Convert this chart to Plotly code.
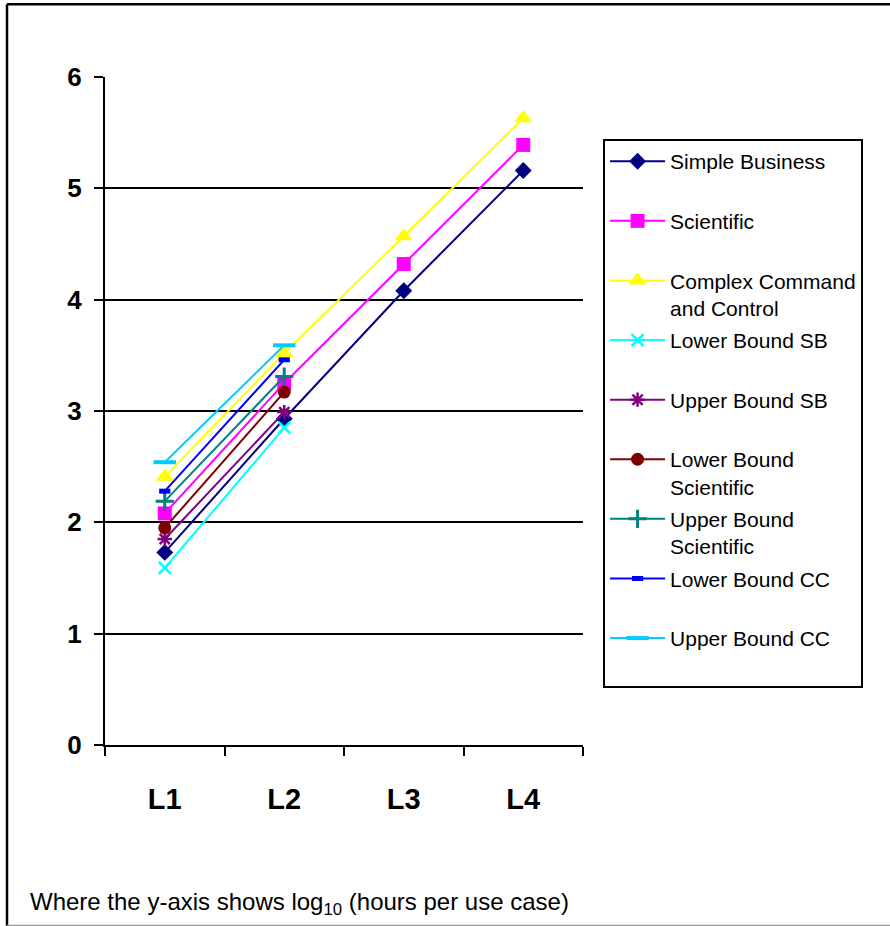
import plotly.graph_objects as go

categories = ["L1", "L2", "L3", "L4"]

series_names = [
    "Simple Business",
    "Scientific",
    "Complex Command<br>and Control",
    "Lower Bound SB",
    "Upper Bound SB",
    "Lower Bound<br>Scientific",
    "Upper Bound<br>Scientific",
    "Lower Bound CC",
    "Upper Bound CC",
]

simple_business = [1.73, 2.93, 4.08, 5.16]
scientific = [2.08, 3.25, 4.32, 5.39]
complex_cc = [2.41, 3.52, 4.57, 5.63]
lower_sb = [1.59, 2.85]
upper_sb = [1.85, 2.99]
lower_sci = [1.95, 3.17]
upper_sci = [2.19, 3.31]
lower_cc = [2.28, 3.46]
upper_cc = [2.54, 3.59]

values = [simple_business, scientific, complex_cc, lower_sb, upper_sb,
          lower_sci, upper_sci, lower_cc, upper_cc]

styles = [
    dict(color="#000080", symbol="diamond", size=13, lw=0),
    dict(color="#FF00FF", symbol="square", size=14, lw=0),
    dict(color="#FFFF00", symbol="triangle-up", size=16, lw=0),
    dict(color="#00FFFF", symbol="x-thin-open", size=12, lw=2.5),
    dict(color="#800080", symbol="asterisk-open", size=12, lw=2.5),
    dict(color="#800000", symbol="circle", size=13, lw=0),
    dict(color="#008080", symbol="cross-thin-open", size=13, lw=3),
    dict(color="#0000FF", symbol="line-ew-open", size=8, lw=5),
    dict(color="#00CCFF", symbol="line-ew-open", size=16, lw=4),
]

fig = go.Figure()
for i, (name, vals, st) in enumerate(zip(series_names, values, styles)):
    label = name if "<br>" in name else name + "<br>\u00a0"
    marker = dict(color=st["color"], symbol=st["symbol"], size=st["size"])
    if st["lw"]:
        marker["line"] = dict(color=st["color"], width=st["lw"])
    fig.add_trace(go.Scatter(
        x=categories[:len(vals)], y=vals, name=label,
        mode="lines+markers", legendgroup=f"g{i}",
        line=dict(color=st["color"], width=2),
        marker=marker,
    ))

FONT = "Liberation Sans, Arial, sans-serif"

frame = dict(type="line", xref="paper", yref="paper",
             line=dict(color="black", width=2.5), layer="below")
frame_left, frame_right, frame_bottom, frame_top = -0.205, 2.0, -0.2705, 1.109

fig.update_layout(
    width=890, height=926,
    margin=dict(l=105, r=307, t=77, b=181),
    paper_bgcolor="white", plot_bgcolor="white",
    font=dict(family=FONT, color="black"),
    showlegend=True,
    legend=dict(
        x=1.042, y=0.907, xanchor="left", yanchor="top",
        bordercolor="black", borderwidth=2, bgcolor="white",
        font=dict(family=FONT, size=21, color="black"),
        valign="top", tracegroupgap=2.0, itemwidth=55,
        traceorder="grouped",
    ),
    xaxis=dict(
        type="category", categoryorder="array", categoryarray=categories,
        range=[-0.5, 3.5], tickson="boundaries",
        showgrid=False, showline=True, linecolor="black", linewidth=2,
        ticks="outside", ticklen=9, tickwidth=2, tickcolor="black",
        tickfont=dict(family=FONT, size=29, color="black", weight="bold"),
        ticklabelstandoff=27, zeroline=False,
    ),
    yaxis=dict(
        range=[0, 6], dtick=1, tick0=0,
        showgrid=True, gridcolor="black", gridwidth=2,
        showline=True, linecolor="black", linewidth=2,
        ticks="outside", ticklen=9, tickwidth=2, tickcolor="black",
        tickfont=dict(family=FONT, size=26, color="black", weight="bold"),
        ticklabelstandoff=7, zeroline=False,
    ),
    shapes=[
        dict(frame, x0=frame_left, x1=frame_left, y0=frame_bottom, y1=frame_top),
        dict(frame, x0=frame_left, x1=frame_right, y0=frame_top, y1=frame_top),
        dict(frame, x0=frame_left, x1=frame_right, y0=frame_bottom, y1=frame_bottom,
             line=dict(color="#9a9a9a", width=2)),
    ],
    annotations=[dict(
        text="Where the y-axis shows log<sub>10</sub> (hours per use case)",
        xref="paper", yref="paper", x=-0.162, y=-0.238,
        xanchor="left", yanchor="middle", showarrow=False,
        font=dict(family=FONT, size=24, color="black"),
    )],
)

fig.write_html("out.html", config={"displayModeBar": False},
               post_script="document.body.style.margin='0';")
